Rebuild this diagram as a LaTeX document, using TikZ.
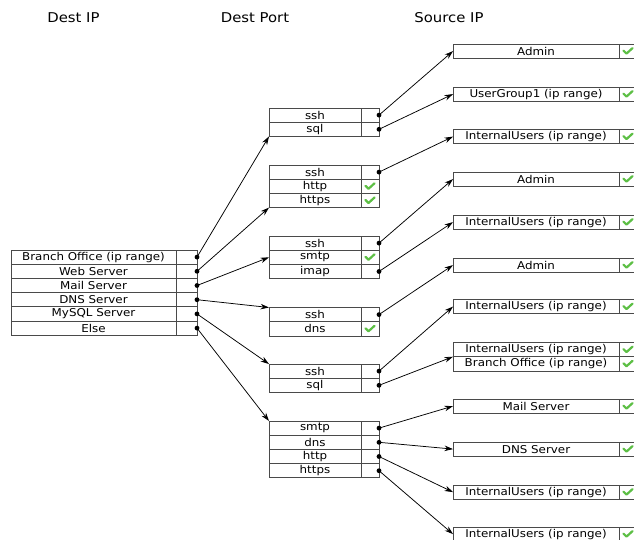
\documentclass[tikz,border=0pt]{standalone}
\usepackage{fontspec}
\setmainfont[FakeStretch=1.1]{DejaVu Sans}
\usetikzlibrary{arrows.meta}
\definecolor{boxline}{HTML}{4A4A4A}
\definecolor{checkgreen}{HTML}{5DBF45}
\begin{document}
\begin{tikzpicture}[x=1pt,y=-1pt,
  cell/.style={draw=boxline, line width=0.8pt, inner sep=0pt, outer sep=0pt,
    minimum height=14.2pt, anchor=north west, font=\fontsize{10.8}{12}\selectfont},
  lcell/.style={cell, minimum width=165pt},
  lbox/.style={cell, minimum width=21pt},
  mcell/.style={cell, minimum width=92pt},
  mbox/.style={cell, minimum width=18pt},
  rcell/.style={cell, minimum width=166pt},
  rbox/.style={cell, minimum width=18pt},
  head/.style={font=\fontsize{13.5}{16}\selectfont},
  link/.style={-{Stealth[length=8.5pt,width=5.5pt]}, line width=0.75pt, black},
  chk/.pic={\draw[checkgreen, line width=2.2pt, line cap=round, line join=round]
    (-4.5,-0.5) -- (-1.5,2.5) -- (4.5,-3);},
]
\useasboundingbox (0,0) rectangle (634,539);

% column headings
\node[head] (h1) at (73.5,18) {Dest IP};
\node[head] (h2) at (255,18) {Dest Port};
\node[head] (h3) at (449,18) {Source IP};

% destination IP table
\node[lcell] (l1) at (11,250) {Branch Office (ip range)};
\node[lcell] (l2) at (l1.south west) {Web Server};
\node[lcell] (l3) at (l2.south west) {Mail Server};
\node[lcell] (l4) at (l3.south west) {DNS Server};
\node[lcell] (l5) at (l4.south west) {MySQL Server};
\node[lcell] (l6) at (l5.south west) {Else};
\foreach \i in {1,...,6} \node[lbox] (lc\i) at (l\i.north east) {};

% destination port tables
\node[mcell] (t1a) at (269,108) {ssh};
\node[mcell] (t1b) at (t1a.south west) {sql};

\node[mcell] (t2a) at (269,165) {ssh};
\node[mcell] (t2b) at (t2a.south west) {http};
\node[mcell] (t2c) at (t2b.south west) {https};

\node[mcell] (t3a) at (269,236) {ssh};
\node[mcell] (t3b) at (t3a.south west) {smtp};
\node[mcell] (t3c) at (t3b.south west) {imap};

\node[mcell] (t4a) at (269,307.5) {ssh};
\node[mcell] (t4b) at (t4a.south west) {dns};

\node[mcell] (t5a) at (269,364) {ssh};
\node[mcell] (t5b) at (t5a.south west) {sql};

\node[mcell] (t6a) at (269,421) {smtp};
\node[mcell] (t6b) at (t6a.south west) {dns};
\node[mcell] (t6c) at (t6b.south west) {http};
\node[mcell] (t6d) at (t6c.south west) {https};

\foreach \n in {t1a,t1b,t2a,t2b,t2c,t3a,t3b,t3c,t4a,t4b,t5a,t5b,t6a,t6b,t6c,t6d}
  \node[mbox] (\n c) at (\n.north east) {};

% source IP tables
\node[rcell] (r1) at (453,44) {Admin};
\node[rcell] (r2) at (453,87) {UserGroup1 (ip range)};
\node[rcell] (r3) at (453,129.5) {InternalUsers (ip range)};
\node[rcell] (r4) at (453,172) {Admin};
\node[rcell] (r5) at (453,215) {InternalUsers (ip range)};
\node[rcell] (r6) at (453,258) {Admin};
\node[rcell] (r7) at (453,299.5) {InternalUsers (ip range)};
\node[rcell] (r8) at (453,342.5) {InternalUsers (ip range)};
\node[rcell] (r8b) at (r8.south west) {Branch Office (ip range)};
\node[rcell] (r9) at (453,399) {Mail Server};
\node[rcell] (r10) at (453,442) {DNS Server};
\node[rcell] (r11) at (453,485) {InternalUsers (ip range)};
\node[rcell] (r12) at (453,527) {InternalUsers (ip range)};
\foreach \n in {r1,r2,r3,r4,r5,r6,r7,r8,r8b,r9,r10,r11,r12}
  \node[rbox] (\n c) at (\n.north east) {};

% allowed marks
\foreach \n in {t2bc,t2cc,t3bc,t4bc,r1c,r2c,r3c,r4c,r5c,r6c,r7c,r8c,r8bc,r9c,r10c,r11c,r12c}
  \pic at (\n) {chk};

% connectors: destination IP -> ports
\draw[link] (lc1.east) -- (t1b.south west);
\draw[link] (lc2.east) -- (t2c.south west);
\draw[link] (lc3.east) -- (t3b.west);
\draw[link] (lc4.east) -- (t4a.north west);
\draw[link] (lc5.east) -- (t5a.north west);
\draw[link] (lc6.east) -- (t6a.north west);

% connectors: ports -> source IP
\draw[link] (t1ac.east) -- (r1.west);
\draw[link] (t1bc.east) -- (r2.west);
\draw[link] (t2ac.east) -- (r3.west);
\draw[link] (t3ac.east) -- (r4.west);
\draw[link] (t3cc.east) -- (r5.west);
\draw[link] (t4ac.east) -- (r6.west);
\draw[link] (t5ac.east) -- (r7.west);
\draw[link] (t5bc.east) -- (r8.south west);
\draw[link] (t6ac.east) -- (r9.west);
\draw[link] (t6bc.east) -- (r10.west);
\draw[link] (t6cc.east) -- (r11.west);
\draw[link] (t6dc.east) -- (r12.west);

% start dots
\foreach \n in {lc1,lc2,lc3,lc4,lc5,lc6,t1ac,t1bc,t2ac,t3ac,t3cc,t4ac,t5ac,t5bc,t6ac,t6bc,t6cc,t6dc}
  \fill (\n.east) circle (2.4pt);
\end{tikzpicture}
\end{document}
